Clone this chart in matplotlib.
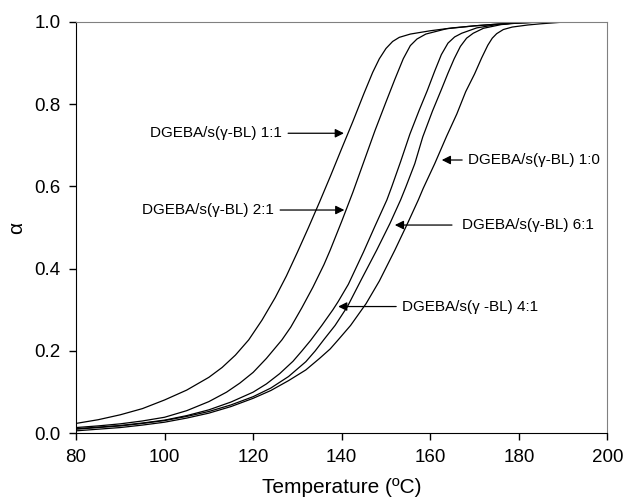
import matplotlib
matplotlib.use("Agg")
import matplotlib.pyplot as plt

plt.rcParams['font.family'] = ['Liberation Sans', 'DejaVu Sans']

# curves (temperature in C, conversion alpha)
t_11 = [80, 85, 90, 95, 100, 105, 110, 113, 116, 119, 122, 125, 127.5, 130, 132.5, 135, 137.5,
        140, 142.5, 145, 147, 148.5, 150, 151.5, 153, 155.5, 160, 165, 170, 175, 180, 185, 190, 200]
a_11 = [0.024, 0.033, 0.045, 0.060, 0.081, 0.105, 0.136, 0.160, 0.190, 0.227, 0.275, 0.330, 0.382,
        0.440, 0.500, 0.562, 0.626, 0.692, 0.757, 0.825, 0.877, 0.910, 0.935, 0.952, 0.962, 0.970,
        0.978, 0.985, 0.990, 0.994, 0.997, 0.999, 1.0, 1.0]

t_21 = [80, 85, 90, 95, 100, 105, 110, 114, 117, 120, 123, 126.5, 128.5, 131, 133.5, 136, 137.4,
        140, 142.5, 145, 147.5, 150, 152, 153.9, 155.5, 157, 159, 163.7, 170, 175, 180, 185, 190, 200]
a_21 = [0.014, 0.018, 0.023, 0.030, 0.039, 0.055, 0.077, 0.100, 0.122, 0.148, 0.182, 0.227, 0.258,
        0.305, 0.355, 0.410, 0.445, 0.515, 0.585, 0.660, 0.735, 0.805, 0.860, 0.910, 0.942, 0.958,
        0.970, 0.983, 0.990, 0.994, 0.997, 0.999, 1.0, 1.0]

t_41 = [80, 85, 90, 95, 100, 105, 110, 115, 120, 123, 126, 129, 131, 133, 135.5, 138, 139.2, 141.5,
        144.9, 147.5, 150.2, 151.3, 153.3, 155.4, 157.5, 159.3, 161, 162.5, 164, 165.5, 167.1, 170.5,
        175, 180, 185, 200]
a_41 = [0.011, 0.015, 0.019, 0.025, 0.032, 0.043, 0.057, 0.076, 0.100, 0.120, 0.145, 0.175, 0.200,
        0.226, 0.262, 0.300, 0.320, 0.362, 0.440, 0.503, 0.567, 0.599, 0.660, 0.727, 0.785, 0.832,
        0.880, 0.920, 0.948, 0.963, 0.972, 0.985, 0.993, 0.998, 1.0, 1.0]

t_61 = [80, 85, 90, 95, 100, 105, 110, 115, 120, 124, 128, 131.9, 134, 136, 138.5, 141.3, 144.5,
        147.9, 150.9, 153.3, 154.5, 156.5, 158.3, 160.5, 162.5, 164, 165.4, 166.8, 168.2, 169.7, 172,
        176, 180, 186, 200]
a_61 = [0.010, 0.014, 0.018, 0.024, 0.031, 0.041, 0.053, 0.069, 0.089, 0.110, 0.138, 0.174, 0.200,
        0.228, 0.262, 0.308, 0.375, 0.445, 0.510, 0.567, 0.599, 0.655, 0.720, 0.783, 0.835, 0.875,
        0.910, 0.940, 0.960, 0.972, 0.984, 0.993, 0.997, 1.0, 1.0]

t_10 = [80, 85, 90, 95, 100, 105, 110, 115, 120, 124, 128, 131.9, 135, 137.4, 139.2, 142, 145.5,
        148.5, 152, 155, 157.3, 158.4, 161, 163.7, 166, 168, 170, 171.6, 173, 174, 175, 176.5, 178.5,
        182, 185, 190, 200]
a_10 = [0.006, 0.010, 0.014, 0.020, 0.027, 0.037, 0.049, 0.065, 0.085, 0.104, 0.128, 0.154, 0.182,
        0.205, 0.227, 0.262, 0.315, 0.370, 0.445, 0.513, 0.567, 0.595, 0.655, 0.722, 0.776, 0.830,
        0.873, 0.912, 0.943, 0.960, 0.971, 0.981, 0.987, 0.992, 0.995, 0.999, 1.0]

label_txt = ['DGEBA/s(\u03b3-BL) 1:1', 'DGEBA/s(\u03b3-BL) 2:1', 'DGEBA/s(\u03b3-BL) 1:0',
             'DGEBA/s(\u03b3-BL) 6:1', 'DGEBA/s(\u03b3 -BL) 4:1']

fig = plt.figure(figsize=(6.26, 4.98), dpi=100)
ax = fig.add_axes([0.1214, 0.1299, 0.8489, 0.8265])

for t, a in [(t_11, a_11), (t_21, a_21), (t_41, a_41), (t_61, a_61), (t_10, a_10)]:
    ax.plot(t, a, color='black', lw=0.9)

ax.set_xlim(80, 200)
ax.set_ylim(0, 1.0)
ax.set_xticks([80, 100, 120, 140, 160, 180, 200])
ax.set_yticks([0.0, 0.2, 0.4, 0.6, 0.8, 1.0])
ax.set_yticklabels(['0.0', '0.2', '0.4', '0.6', '0.8', '1.0'])
ax.tick_params(direction='out', length=5, width=1, labelsize=13.5, pad=6)
ax.spines['top'].set_color('#808080')
ax.spines['right'].set_color('#808080')
ax.set_xlabel('Temperature (\u00baC)', fontsize=15, labelpad=9)
ax.set_ylabel('\u03b1', fontsize=15, labelpad=6)

ap = dict(arrowstyle='-|>', color='black', lw=0.9, mutation_scale=13, shrinkA=0, shrinkB=0)

# arrows pointing right (labels on the left)
ax.annotate('', xy=(140.5, 0.729), xytext=(127.9, 0.729), arrowprops=ap)
ax.text(126.5, 0.729, label_txt[0], fontsize=11, ha='right', va='center')
ax.annotate('', xy=(140.6, 0.5425), xytext=(126.1, 0.5425), arrowprops=ap)
ax.text(124.6, 0.5425, label_txt[1], fontsize=11, ha='right', va='center')

# arrows pointing left (labels on the right)
ax.annotate('', xy=(162.6, 0.664), xytext=(167.2, 0.664), arrowprops=ap)
ax.text(168.6, 0.664, label_txt[2], fontsize=11, ha='left', va='center')
ax.annotate('', xy=(152.0, 0.506), xytext=(164.9, 0.506), arrowprops=ap)
ax.text(167.2, 0.506, label_txt[3], fontsize=11, ha='left', va='center')
ax.annotate('', xy=(139.2, 0.308), xytext=(152.3, 0.308), arrowprops=ap)
ax.text(153.6, 0.308, label_txt[4], fontsize=11, ha='left', va='center')

fig.savefig('out.png', dpi=100)
